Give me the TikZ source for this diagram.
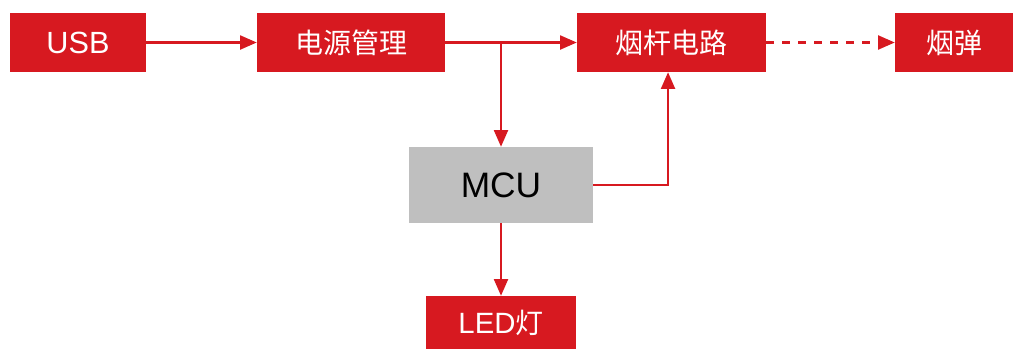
\documentclass[tikz,border=0pt]{standalone}
\usepackage{fontspec}
\setmainfont{Liberation Sans}
\newfontfamily\cjk{Noto Sans CJK SC}
\usetikzlibrary{arrows.meta,calc}
\definecolor{boxred}{HTML}{D71920}
\definecolor{boxgray}{HTML}{BFBFBF}
\newcommand{\cn}[1]{{\cjk\fontsize{21pt}{24pt}\selectfont #1}}
\begin{document}
\begin{tikzpicture}[x=0.75pt,y=-0.75pt,
  redbox/.style={rectangle,fill=boxred,text=white,inner sep=0pt,minimum height={59*0.75pt},font=\fontsize{23pt}{26pt}\selectfont},
  graybox/.style={rectangle,fill=boxgray,text=black,inner sep=0pt,font=\fontsize{26.5pt}{29pt}\selectfont},
  conn/.style={draw=boxred,line width=1.6pt,-{Triangle[length=12.5pt,width=10.5pt]}},
  dconn/.style={conn,dash pattern=on 6pt off 6pt}]
\useasboundingbox[fill=white] (0,0) rectangle (1024,350);
\node[redbox,minimum width={136*0.75pt}] (usb) at (78,42.5) {USB};
\node[redbox,minimum width={188*0.75pt}] (pm) at (351,42.5) {\cn{电源管理}};
\node[redbox,minimum width={189*0.75pt}] (yg) at (671.5,42.5) {\cn{烟杆电路}};
\node[redbox,minimum width={118*0.75pt}] (yd) at (954,42.5) {\cn{烟弹}};
\node[graybox,minimum width={184*0.75pt},minimum height={76*0.75pt}] (mcu) at (501,185) {MCU};
\node[redbox,minimum width={150*0.75pt},minimum height={53*0.75pt},font=\fontsize{22pt}{25pt}\selectfont] (led) at (501,322.5) {LED\cn{灯}};
\coordinate (j) at (501,42.5);
\draw[conn] (usb.east) -- (pm.west);
\draw[conn] (pm.east) -- (yg.west);
\draw[dconn] (yg.east) -- (yd.west);
\draw[conn] (j) -- (mcu.north);
\draw[conn] (mcu.east) -| ([xshift=-2.6pt]yg.south);
\draw[conn] (mcu.south) -- (led.north);
\end{tikzpicture}
\end{document}
